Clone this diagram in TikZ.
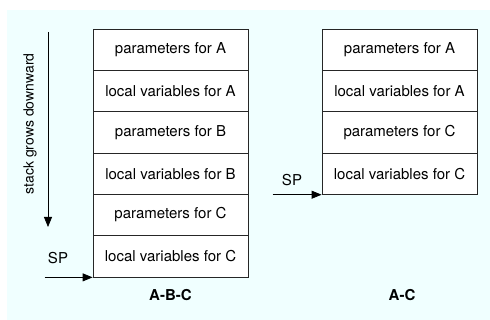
\documentclass[tikz,border=0pt]{standalone}
\usepackage{fontspec}
\setmainfont{TeX Gyre Heros}
\usepackage{tikz}
\usetikzlibrary{positioning}
\usetikzlibrary{arrows.meta}
\definecolor{bgcyan}{RGB}{240,255,255}

\begin{document}
\begin{tikzpicture}[x=1pt,y=1pt,
    cell/.style={draw=black!85, line width=0.8pt, fill=white, inner sep=0pt,
      minimum width=155pt, minimum height=41.33pt, font=\fontsize{15}{18}\selectfont},
    lbl/.style={font=\fontsize{15}{18}\selectfont},
    tip/.style={-{Triangle[length=10pt,width=8pt]}, line width=0.8pt}]

  \useasboundingbox (0,0) rectangle (490,320);
  \fill[bgcyan] (7,0) rectangle (490,310);

  \def\d{41.33};
  \def\stacktop{291};

  %stack A-B-C
  \foreach \i/\txt in {1/parameters for A,2/local variables for A,3/parameters for B,4/local variables for B,5/parameters for C,6/local variables for C}{
       \node[cell] (abc\i) at (170.5, \stacktop - \i*\d + \d/2) {\txt};
  }

  %stack A-C
  \foreach \i/\txt in {1/parameters for A,2/local variables for A,3/parameters for C,4/local variables for C}{
       \node[cell] (ac\i) at (399.5, \stacktop - \i*\d + \d/2) {\txt};
  }

  %labels
  \node[lbl,font=\fontsize{15}{18}\selectfont\bfseries] (nabc) at (170.5,25) {A-B-C};
  \node[lbl,font=\fontsize{15}{18}\selectfont\bfseries] (nac) at (402,25) {A-C};

  %stack growth
  \node[lbl,rotate=90,font=\fontsize{14}{17}\selectfont] (grow) at (30,196) {stack grows downward};
  \coordinate (gtop) at (48,288);
  \coordinate (gbot) at (48,93);
  \draw[tip] (gtop) -- (gbot);

  %stack pointers
  \node[lbl] (sp1) at (58,62) {SP};
  \coordinate[left=48pt of abc6.south west] (sp1s);
  \draw[tip] (sp1s) -- (abc6.south west);

  \node[lbl] (sp2) at (292,140) {SP};
  \coordinate[left=49pt of ac4.south west] (sp2s);
  \draw[tip] (sp2s) -- (ac4.south west);

\end{tikzpicture}
\end{document}
